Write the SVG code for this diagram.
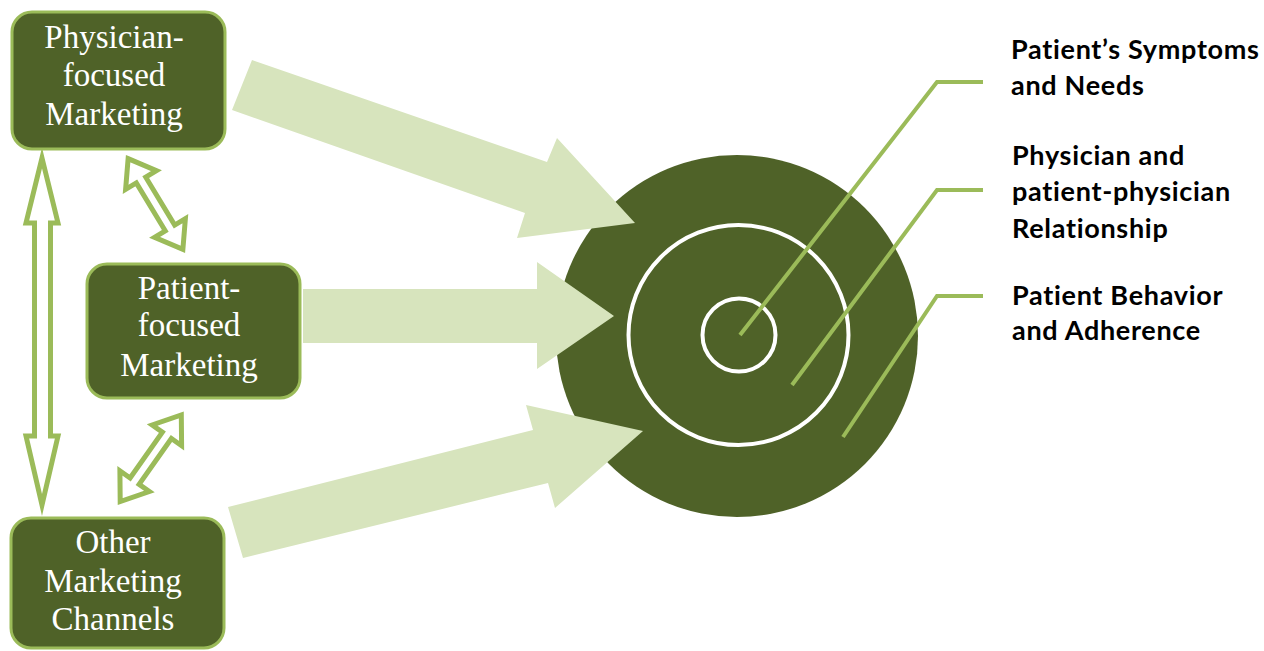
<svg xmlns="http://www.w3.org/2000/svg" width="1264" height="651" viewBox="0 0 1264 651">
  <style>
    .box { fill: #4f6228; stroke: #9bbb59; stroke-width: 3; }
    .btxt { font-family: "Liberation Serif", "Times New Roman", serif; font-size: 33px; fill: #ffffff; text-anchor: middle; }
    .big { fill: #d7e4bd; }
    .dbl { fill: #ffffff; stroke: #9bbb59; stroke-width: 5; stroke-linejoin: miter; stroke-miterlimit: 10; }
    .lead { fill: none; stroke: #9bbb59; stroke-width: 4; stroke-linejoin: miter; }
    .ring { fill: none; stroke: #ffffff; stroke-width: 4; }
    .lbl { font-family: Lato, "Liberation Sans", sans-serif; font-weight: bold; font-size: 27px; letter-spacing: 0.7px; fill: #000000; }
  </style>
  <defs>
    <path id="dblArrow" d="M-53,0 L-28,-18 L-28,-5.5 L28,-5.5 L28,-18 L53,0 L28,18 L28,5.5 L-28,5.5 L-28,18 Z"/>
  </defs>

  <g id="target">
    <circle cx="737" cy="336" r="181" fill="#4f6228"/>
    <circle class="ring" cx="738.5" cy="335" r="110"/>
    <circle class="ring" cx="739" cy="335" r="36.5"/>
  </g>

  <g id="connectors">
    <polygon class="big" points="252,60 547,162 557,138 635,223 517,238 525,213 232,110"/>
    <polygon class="big" points="303,289 537,289 537,262 614,316 537,369 537,343 303,343"/>
    <polygon class="big" points="228,507 533,430 526,405 643,431 555,508 548,483 243,558"/>
    <path class="dbl" d="M42,158 L58,223 L50.5,223 L50.5,436 L58,436 L42,505 L26,436 L34.5,436 L34.5,223 L26,223 Z"/>
    <use class="dbl" href="#dblArrow" transform="translate(155.5,204) rotate(58.9)"/>
    <use class="dbl" href="#dblArrow" transform="translate(150.75,458.25) rotate(125.2)"/>
    <polyline class="lead" points="740,335 937,82 983,82"/>
    <polyline class="lead" points="792,385 937,190 983,190"/>
    <polyline class="lead" points="843,437 937,296 983,296"/>
  </g>

  <g id="node-physician">
    <rect class="box" x="12" y="12" width="213" height="137" rx="20"/>
    <text class="btxt" x="114" y="48">Physician-</text>
    <text class="btxt" x="114" y="86">focused</text>
    <text class="btxt" x="114" y="125">Marketing</text>
  </g>

  <g id="node-patient">
    <rect class="box" x="87" y="264" width="213" height="134" rx="20"/>
    <text class="btxt" x="189" y="299">Patient-</text>
    <text class="btxt" x="189" y="336">focused</text>
    <text class="btxt" x="189" y="376">Marketing</text>
  </g>

  <g id="node-other">
    <rect class="box" x="11" y="518" width="213" height="130" rx="20"/>
    <text class="btxt" x="113" y="553">Other</text>
    <text class="btxt" x="113" y="592">Marketing</text>
    <text class="btxt" x="113" y="630">Channels</text>
  </g>

  <g id="label-symptoms">
    <text class="lbl" x="1011" y="59">Patient’s Symptoms</text>
    <text class="lbl" x="1011" y="95">and Needs</text>
  </g>
  <g id="label-relationship">
    <text class="lbl" x="1012" y="165">Physician and</text>
    <text class="lbl" x="1012" y="201">patient-physician</text>
    <text class="lbl" x="1012" y="238">Relationship</text>
  </g>
  <g id="label-behavior">
    <text class="lbl" x="1012" y="305">Patient Behavior</text>
    <text class="lbl" x="1012" y="340">and Adherence</text>
  </g>
</svg>
